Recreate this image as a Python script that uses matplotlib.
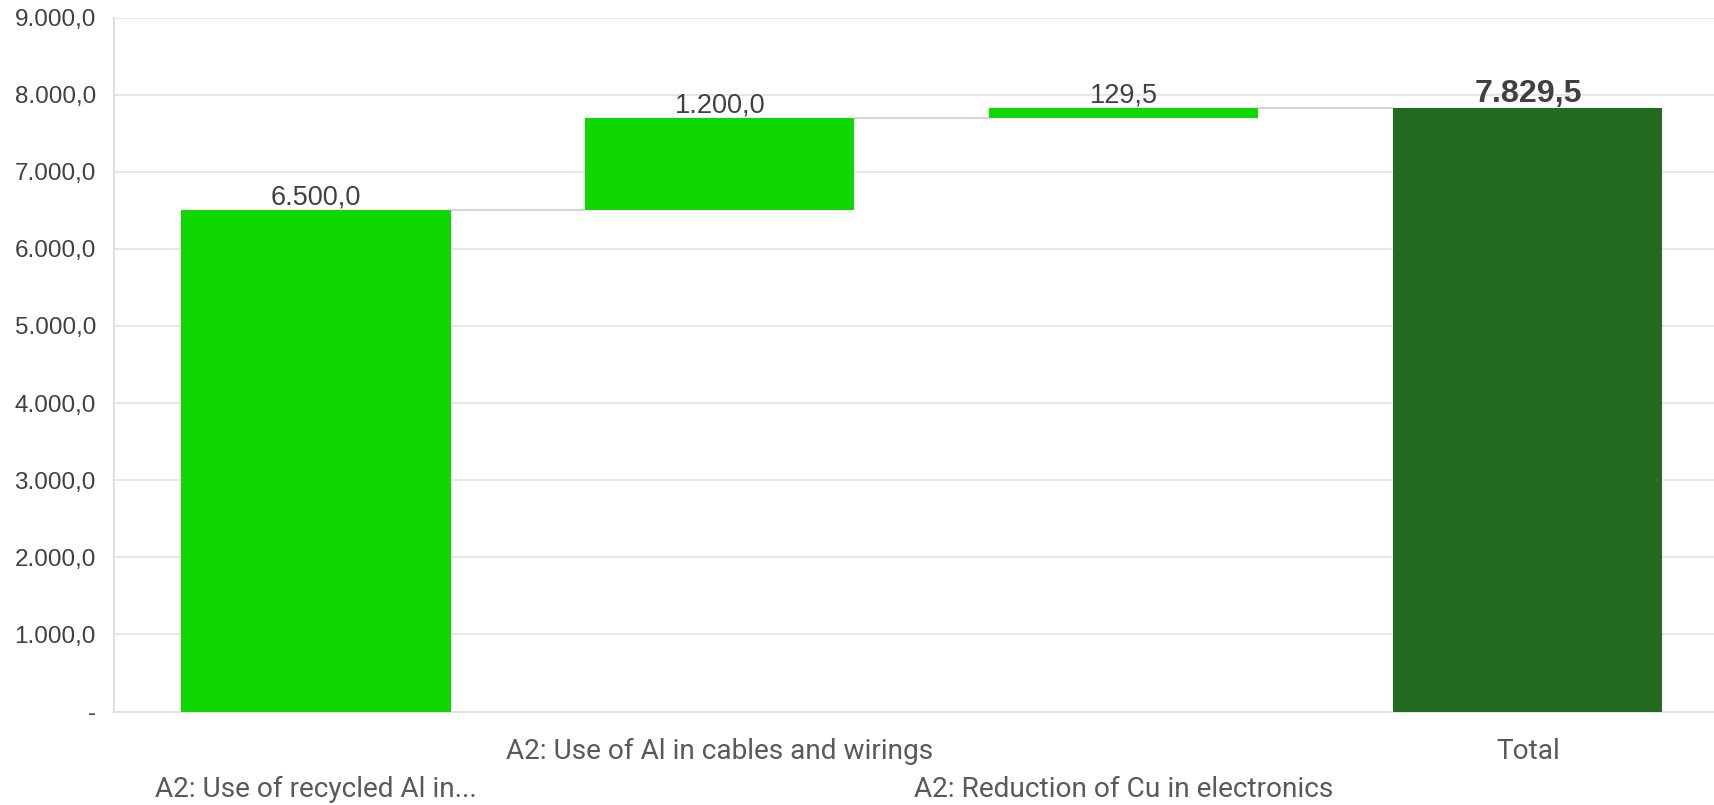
import matplotlib
matplotlib.use("Agg")
import matplotlib.pyplot as plt
import numpy as np

# waterfall steps and the resulting total
categories = ["A2: Use of recycled Al in...",
              "A2: Use of Al in cables and wirings",
              "A2: Reduction of Cu in electronics",
              "Total"]
steps = [6500.0, 1200.0, 129.5]
y_ticks = [0, 1000, 2000, 3000, 4000, 5000, 6000, 7000, 8000, 9000]

total = sum(steps)
values = steps + [total]
ends = np.cumsum(steps)
bottoms = list(ends - np.array(steps)) + [0.0]
colors = ["#0fd700"] * len(steps) + ["#236b1f"]

TEXT = "#404040"
GRID = "#e6e6e6"


def fmt_eu(v):
    # 1.234,5 style, zero shown as a dash
    if v == 0:
        return "-"
    s = f"{v:,.1f}"
    return s.replace(",", "X").replace(".", ",").replace("X", ".")


fig = plt.figure(figsize=(17.14, 8.05), dpi=100)
ax = fig.add_axes([0.0665, 0.1161, 0.9428, 0.8621])

x = np.arange(len(categories))
bar_w = 0.666
ax.bar(x, values, bottom=bottoms, width=bar_w, color=colors, zorder=3)

# connector lines between consecutive bars
for i, lvl in enumerate(ends):
    ax.plot([x[i] + bar_w / 2, x[i + 1] - bar_w / 2], [lvl, lvl],
            color="#d6d6d6", lw=1.5, zorder=2, solid_capstyle="butt")

# value labels
for i, (v, b) in enumerate(zip(values, bottoms)):
    is_total = i == len(values) - 1
    ax.annotate(fmt_eu(v), (x[i], b + v), xytext=(0, 4), textcoords="offset points",
                ha="center", va="baseline", color=TEXT, family="Liberation Sans",
                fontsize=23.2 if is_total else 19.5,
                fontweight="bold" if is_total else "normal")

# staggered category labels
for i, cat in enumerate(categories):
    dy = -29.0 if i % 2 else -55.8
    ax.annotate(cat, (x[i], 0), xycoords=("data", "axes fraction"),
                xytext=(0, dy), textcoords="offset points",
                ha="center", va="center", color="#595959",
                family="Roboto", fontsize=20.2, annotation_clip=False)

ax.set_xlim(-0.5, 3.5)
ax.set_xticks([])
ax.set_ylim(0, 9000)
ax.set_yticks(y_ticks)
ax.set_yticklabels([fmt_eu(t) for t in y_ticks])
ax.tick_params(axis="y", length=0, pad=13, labelsize=17.5, labelcolor=TEXT)
for lbl in ax.get_yticklabels():
    lbl.set_family("Liberation Sans")

ax.yaxis.grid(True, color=GRID, lw=1.4)
ax.set_axisbelow(True)
for side in ["top", "right"]:
    ax.spines[side].set_visible(False)
for side in ["left", "bottom"]:
    ax.spines[side].set_color("#e0e0e0")
    ax.spines[side].set_linewidth(1.4)

fig.savefig("out.png", dpi=100)
